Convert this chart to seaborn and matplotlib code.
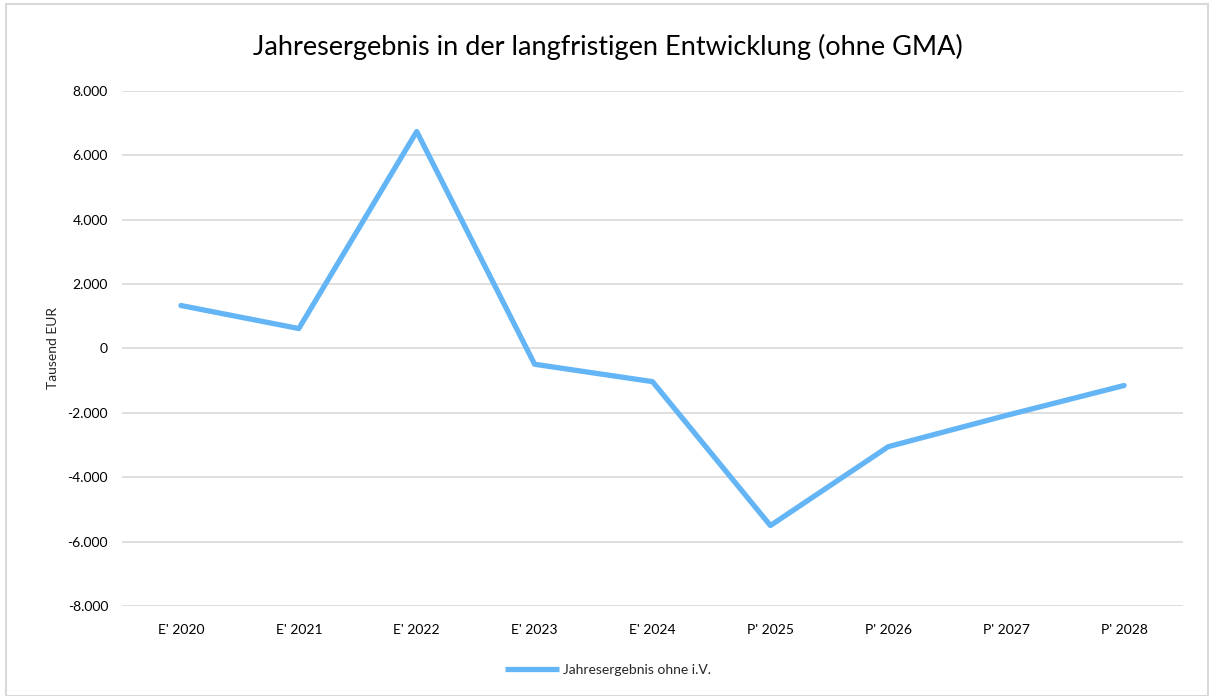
import matplotlib
matplotlib.use("Agg")
import matplotlib.pyplot as plt
import seaborn as sns
import pandas as pd
from matplotlib.patches import Rectangle
from matplotlib.ticker import FuncFormatter
from matplotlib.lines import Line2D

categories = ["E' 2020", "E' 2021", "E' 2022", "E' 2023", "E' 2024",
              "P' 2025", "P' 2026", "P' 2027", "P' 2028"]
values = [1335, 620, 6740, -490, -1030, -5500, -3050, -2080, -1150]
series_name = "Jahresergebnis ohne i.V."
title = "Jahresergebnis in der langfristigen Entwicklung (ohne GMA)"
y_label = "Tausend EUR"
y_ticks = [-8000, -6000, -4000, -2000, 0, 2000, 4000, 6000, 8000]

sns.set_theme(style="white")
plt.rcParams['font.family'] = ['Lato', 'DejaVu Sans']

df = pd.DataFrame({"cat": categories, "val": values, "series": series_name})
df["x"] = range(len(categories))

fig = plt.figure(figsize=(12.09, 6.96), dpi=100)
ax = fig.add_axes([0.1009, 0.1293, 0.8776, 0.7400])

color = "#64B5F6"
sns.lineplot(data=df, x="x", y="val", hue="series", palette=[color],
             linewidth=3.8, ax=ax, solid_capstyle="round", solid_joinstyle="round",
             legend=False)

ax.set_xlim(-0.5, len(categories) - 0.5)
ax.set_ylim(-8000, 8000)
ax.set_yticks(y_ticks)
ax.yaxis.set_major_formatter(FuncFormatter(lambda v, p: f"{int(v):,}".replace(",", ".")))
ax.set_xticks(range(len(categories)))
ax.set_xticklabels(categories)
ax.tick_params(axis="both", length=0, labelsize=10, colors="#000000")
ax.tick_params(axis="y", pad=10)
ax.tick_params(axis="x", pad=13)
ax.grid(axis="y", color="#D9D9D9", linewidth=1.2)
ax.set_axisbelow(True)
for s in ax.spines.values():
    s.set_visible(False)
ax.set_xlabel("")
ax.set_ylabel(y_label, fontsize=10, labelpad=6)

fig.suptitle(title, fontsize=19.5, x=0.503, y=0.952, color="#000000")

h = Line2D([], [], color=color, linewidth=3.8, solid_capstyle="butt")
fig.legend([h], [series_name], loc="center", bbox_to_anchor=(0.503, 0.037),
           frameon=False, fontsize=10, handlelength=3.9, handletextpad=0.25)

fig.patches.append(Rectangle((6 / 1209, 0.0), 1 - 7 / 1209, 1 - 4 / 696,
                             transform=fig.transFigure, fill=False,
                             edgecolor="#D9D9D9", linewidth=1.5))

fig.savefig("out.png", dpi=100)
